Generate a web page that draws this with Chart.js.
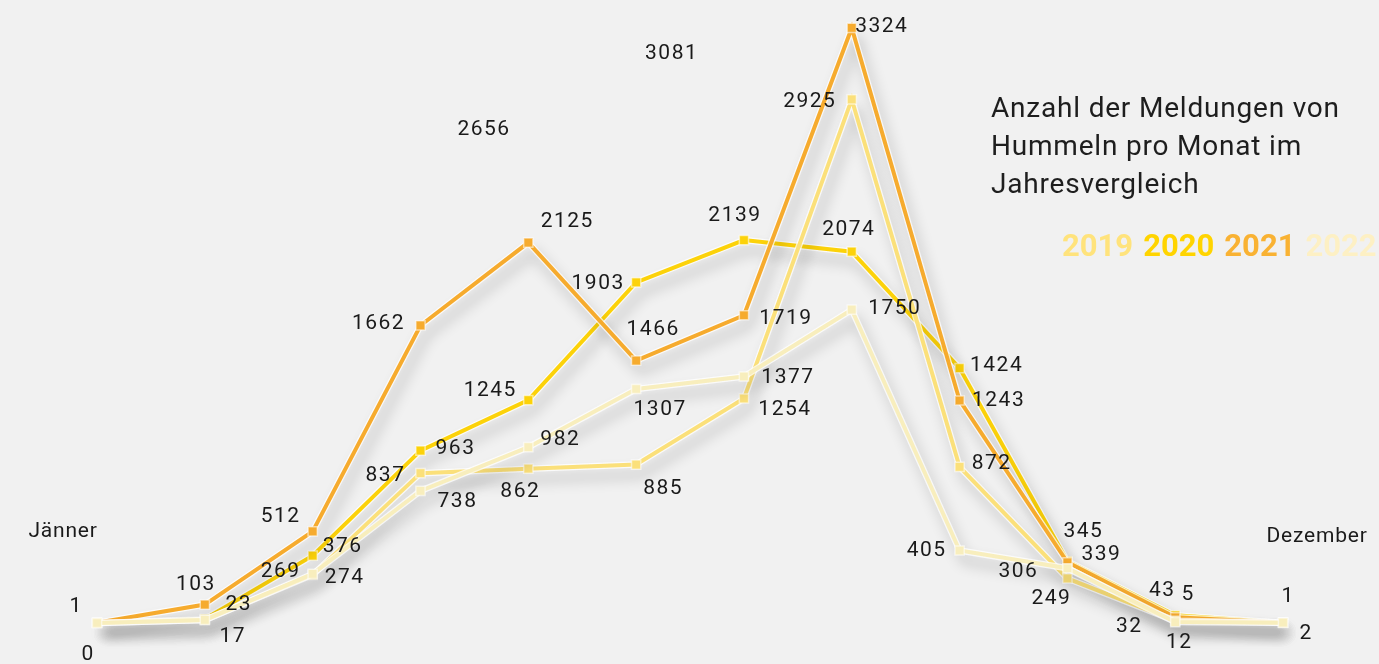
<!DOCTYPE html>
<html lang="de">
<head>
<meta charset="utf-8">
<title>Hummeln pro Monat</title>
<script src="https://cdn.jsdelivr.net/npm/chart.js@4/dist/chart.umd.min.js"></script>
<style>
    html, body { margin: 0; padding: 0; background: #f1f1f1; }
    #wrap { position: relative; width: 1379px; height: 664px; overflow: hidden; }
    #chart { position: absolute; left: 0; top: 0; }
    .title {
        position: absolute; left: 991px; top: 89px;
        font-family: Roboto, sans-serif; font-size: 28px; line-height: 38px;
        color: #1e1e1e; font-weight: 400; letter-spacing: 0.8px;
    }
    .legend {
        position: absolute; left: 1062px; top: 230px; white-space: nowrap;
        font-family: Roboto, sans-serif; font-size: 31px; line-height: 31px; font-weight: 700;
    }
    .legend span { margin-right: 10px; }
</style>
</head>
<body>
<div id="wrap">
    <canvas id="chart" width="1379" height="664"></canvas>
    <div class="title">Anzahl der Meldungen von<br>Hummeln pro Monat im<br>Jahresvergleich</div>
    <div class="legend" id="legend"></div>
</div>
<script>
// Monatsdaten
var months = ['Jänner', 'Februar', 'März', 'April', 'Mai', 'Juni', 'Juli', 'August', 'September', 'Oktober', 'November', 'Dezember'];
var years = ['2019', '2020', '2021', '2022'];

var values2019 = [0, 17, 269, 837, 862, 885, 1254, 2925, 872, 249, 12, 1];
var values2020 = [1, 23, 376, 963, 1245, 1903, 2139, 2074, 1424, 345, 43, 1];
var values2021 = [1, 103, 512, 1662, 2125, 1466, 1719, 3324, 1243, 339, 32, 2];
var values2022 = [0, 17, 274, 738, 982, 1307, 1377, 1750, 405, 306, 5, 2];

// einzelne Werte ohne Linie
var strayMonths = [4.58, 6.32];
var strayValues = [2656, 3081];

var colors = {
    '2019': '#fbe07a',
    '2020': '#fcd20a',
    '2021': '#f6ab2e',
    '2022': '#f8eebd'
};
var legendColors = {
    '2019': '#ffe37c',
    '2020': '#ffd400',
    '2021': '#f9b233',
    '2022': '#fdf0c4'
};

// Beschriftungs-Versatz je Punkt [dx, dy], null = keine Beschriftung
var labelOffsets = {
    '2019': [[-10, 32], [27, 17], [-33, -3], [-36, 3], [-9, 23], [26, 24], [40, 11], [-43, 2], [31, -3], [-17, 20], [3, 22], null],
    '2020': [null, [33, -14], [29, -9], [34, -2], [-39, -9], [-39, 1], [-10, -24], [-4, -22], [36, -2], [15, -29], [-14, -25], [4, -26]],
    '2021': [[-22, -16], [-10, -20], [-33, -15], [-43, -2], [38, -21], [16, -31], [41, 3], [29, -1], [38, 0], [33, -8], [-47, 9], [22, 11]],
    '2022': [null, null, [31, 4], [36, 11], [31, -7], [23, 21], [43, 1], [42, -1], [-34, 0], [-50, 4], [12, -27], null]
};

var seriesValues = { '2019': values2019, '2020': values2020, '2021': values2021, '2022': values2022 };

// Zeichenreihenfolge: hellste Linie zuerst
var drawOrder = ['2022', '2019', '2021', '2020'];

var legend = document.getElementById('legend');
years.forEach(function(y) {
    var s = document.createElement('span');
    s.textContent = y;
    s.style.color = legendColors[y];
    legend.appendChild(s);
});

var datasets = drawOrder.map(function(y) {
    return {
        label: y,
        data: seriesValues[y].map(function(v, i) { return { x: i + 1, y: v }; }),
        borderColor: colors[y],
        backgroundColor: colors[y],
        borderWidth: 4,
        pointStyle: 'rect',
        pointRadius: 6.5,
        pointBorderWidth: 1.5,
        pointBorderColor: 'rgba(255,255,255,0.55)',
        pointBackgroundColor: colors[y],
        tension: 0,
        offsets: labelOffsets[y]
    };
});

datasets.push({
    label: 'stray',
    data: strayValues.map(function(v, i) { return { x: strayMonths[i], y: v }; }),
    showLine: false,
    pointRadius: 0,
    offsets: strayValues.map(function() { return [0, -18]; })
});

// Schatten und heller Rand unter den Linien
var shadowPlugin = {
    id: 'shadow',
    beforeDatasetDraw: function(chart, args) {
        var ctx = chart.ctx;
        var meta = args.meta;
        if (chart.data.datasets[args.index].showLine === false) return;
        ctx.save();
        ctx.shadowColor = 'rgba(0,0,0,0.26)';
        ctx.shadowBlur = 14;
        ctx.shadowOffsetX = 5;
        ctx.shadowOffsetY = 10;
        ctx.strokeStyle = 'rgba(255,255,255,0.75)';
        ctx.lineWidth = 6.5;
        ctx.lineJoin = 'round';
        ctx.beginPath();
        meta.data.forEach(function(p, i) {
            if (i === 0) ctx.moveTo(p.x, p.y); else ctx.lineTo(p.x, p.y);
        });
        ctx.stroke();
        ctx.restore();
    }
};

// Werte und Monatsnamen
var labelPlugin = {
    id: 'valueLabels',
    afterDatasetsDraw: function(chart) {
        var ctx = chart.ctx;
        ctx.save();
        ctx.font = '21px Roboto, sans-serif';
        ctx.letterSpacing = '1.5px';
        ctx.fillStyle = '#1a1a1a';
        ctx.textAlign = 'center';
        ctx.textBaseline = 'middle';
        chart.data.datasets.forEach(function(ds, di) {
            var meta = chart.getDatasetMeta(di);
            meta.data.forEach(function(p, i) {
                var off = ds.offsets[i];
                if (!off) return;
                ctx.fillText(String(ds.data[i].y), p.x + off[0] + 1, p.y + off[1]);
            });
        });
        var xs = chart.scales.x, ys = chart.scales.y;
        ctx.letterSpacing = '0.8px';
        ctx.fillText(months[0], xs.getPixelForValue(1) - 34, ys.getPixelForValue(0) - 91);
        ctx.fillText(months[11], xs.getPixelForValue(12) + 34, ys.getPixelForValue(0) - 86);
        ctx.restore();
    }
};

new Chart(document.getElementById('chart'), {
    type: 'line',
    data: { datasets: datasets },
    options: {
        responsive: false,
        animation: false,
        layout: { padding: 0, autoPadding: false },
        scales: {
            x: { type: 'linear', min: 0.1, max: 12.89, display: false },
            y: { min: -229, max: 3480, display: false }
        },
        plugins: {
            legend: { display: false },
            tooltip: { enabled: false }
        }
    },
    plugins: [shadowPlugin, labelPlugin]
});
</script>
</body>
</html>
